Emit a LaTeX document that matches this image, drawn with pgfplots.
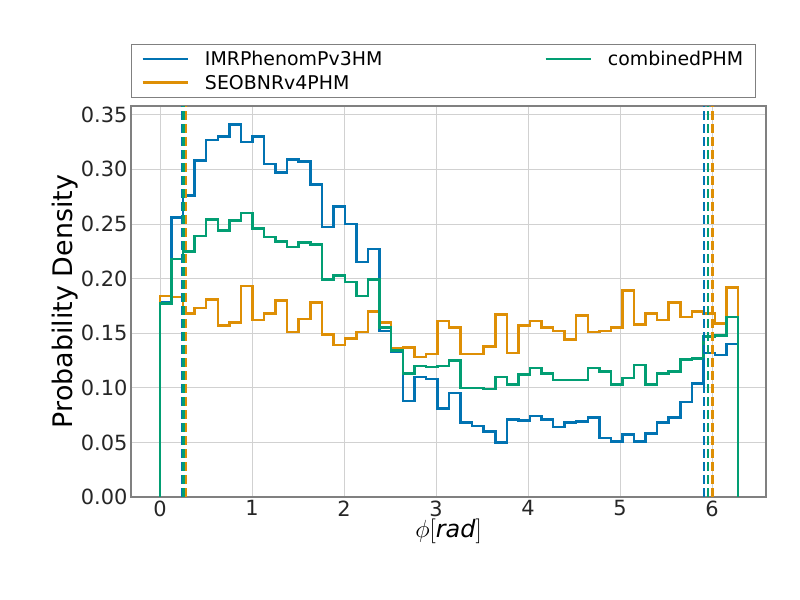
\documentclass[border=0pt]{standalone}
\usepackage{pgfplots}
\usepackage{pgfplotstable}
\pgfplotsset{compat=1.18}
\usepackage{fontspec}
\setmainfont{DejaVu Sans}
\definecolor{cb}{HTML}{0173B2}
\definecolor{co}{HTML}{DE8F05}
\definecolor{cg}{HTML}{029E73}
\pgfplotstableread{
i b o g
0 0 0 0
0 0.178 0.184 0.177
1 0.256 0.183 0.218
2 0.276 0.168 0.225
3 0.308 0.173 0.239
4 0.327 0.181 0.254
5 0.330 0.157 0.244
6 0.341 0.160 0.253
7 0.325 0.193 0.260
8 0.330 0.162 0.246
9 0.305 0.168 0.238
10 0.297 0.180 0.234
11 0.309 0.151 0.229
12 0.307 0.163 0.233
13 0.286 0.178 0.231
14 0.247 0.149 0.199
15 0.266 0.139 0.203
16 0.250 0.145 0.197
17 0.215 0.151 0.184
18 0.227 0.170 0.199
19 0.152 0.160 0.155
20 0.133 0.136 0.134
21 0.088 0.137 0.113
22 0.110 0.128 0.120
23 0.108 0.131 0.119
24 0.081 0.161 0.120
25 0.095 0.155 0.125
26 0.068 0.131 0.100
27 0.065 0.131 0.100
28 0.060 0.138 0.099
29 0.050 0.167 0.110
30 0.071 0.132 0.103
31 0.070 0.157 0.112
32 0.074 0.161 0.118
33 0.071 0.155 0.113
34 0.064 0.152 0.107
35 0.068 0.144 0.107
36 0.069 0.166 0.107
37 0.073 0.151 0.118
38 0.054 0.152 0.115
39 0.051 0.155 0.103
40 0.057 0.189 0.109
41 0.051 0.158 0.121
42 0.058 0.168 0.103
43 0.068 0.162 0.113
44 0.073 0.178 0.115
45 0.087 0.165 0.126
46 0.104 0.170 0.127
47 0.132 0.168 0.147
48 0.130 0.159 0.148
49 0.140 0.192 0.165
50 0.140 0.192 0.165
50 0 0 0
}\hist
\begin{document}
\begin{tikzpicture}
\path (-131bp,-103bp) rectangle (669bp,497bp);
\begin{axis}[
  at={(0,0)}, anchor=south west, scale only axis,
  width=635bp, height=391bp,
  xmin=-0.315, xmax=6.587, ymin=0, ymax=0.358,
  xtick={0,1,2,3,4,5,6},
  ytick={0,0.05,0.1,0.15,0.2,0.25,0.3,0.35},
  yticklabel style={/pgf/number format/.cd,fixed,fixed zerofill,precision=2},
  /pgf/number format/assume math mode=true,
  tick label style={font=\fontsize{21}{24}\selectfont, color=black!85},
  tick style={draw=none},
  grid=major, grid style={color=black!18, line width=0.8pt},
  axis line style={draw=black!50, line width=1.2pt},
  xlabel={$\phi[\mathit{rad}]$}, ylabel={Probability Density},
  ylabel style={font=\fontsize{27}{30}\selectfont, yshift=-4bp},
  xlabel style={font=\fontsize{24}{26}\selectfont, yshift=4bp},
  legend columns=2,
  legend style={at={(0,1)}, anchor=south west, yshift=8bp, draw=black!50, line width=1pt,
    font=\fontsize{19}{22}\selectfont, /tikz/every even column/.append style={column sep=160bp},
    inner xsep=10bp, inner ysep=5bp, row sep=4bp},
  legend cell align=left,
  legend image code/.code={\draw[#1, line width=2.5bp] (0bp,0bp) -- (45bp,0bp);},
]
\addlegendimage{cb}\addlegendentry{\hspace{14bp}IMRPhenomPv3HM}
\addlegendimage{cg}\addlegendentry{\hspace{14bp}combinedPHM}
\addlegendimage{co}\addlegendentry{\hspace{14bp}SEOBNRv4PHM}
\addplot[const plot, cb, line width=2.5bp, forget plot] table[x expr=\thisrow{i}*0.1256637, y=b] {\hist};
\addplot[const plot, co, line width=2.5bp, forget plot] table[x expr=\thisrow{i}*0.1256637, y=o] {\hist};
\addplot[const plot, cg, line width=2.5bp, forget plot] table[x expr=\thisrow{i}*0.1256637, y=g] {\hist};
\addplot[cb, line width=2.5bp, dash pattern=on 9bp off 4bp, forget plot] coordinates {(0.246,0) (0.246,0.358)};
\addplot[co, line width=2.5bp, dash pattern=on 9bp off 4bp, forget plot] coordinates {(0.275,0) (0.275,0.358)};
\addplot[cg, line width=2.5bp, dash pattern=on 9bp off 4bp, forget plot] coordinates {(0.256,0) (0.256,0.358)};
\addplot[cb, line width=2.5bp, dash pattern=on 9bp off 4bp, forget plot] coordinates {(5.913,0) (5.913,0.358)};
\addplot[co, line width=2.5bp, dash pattern=on 9bp off 4bp, forget plot] coordinates {(6.005,0) (6.005,0.358)};
\addplot[cg, line width=2.5bp, dash pattern=on 9bp off 4bp, forget plot] coordinates {(5.955,0) (5.955,0.358)};
\end{axis}
\end{tikzpicture}
\end{document}
